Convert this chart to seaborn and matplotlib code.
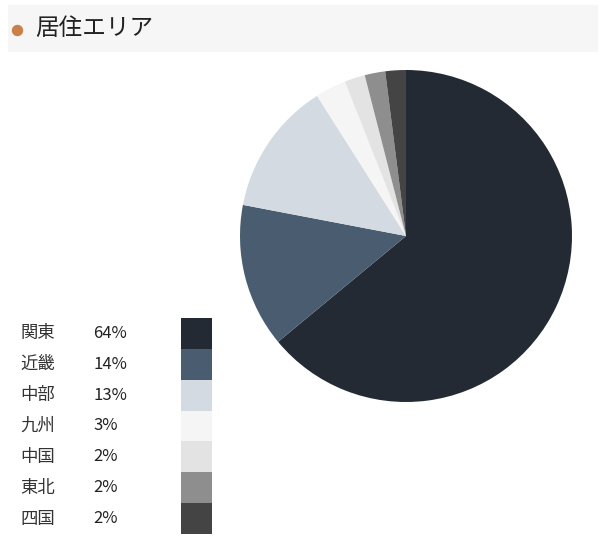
import matplotlib
matplotlib.use("Agg")
import matplotlib.pyplot as plt
import seaborn as sns

# データ
areas = ["関東", "近畿", "中部", "九州", "中国", "東北", "四国"]
shares = [64, 14, 13, 3, 2, 2, 2]
colors = ["#232a33", "#4a5d70", "#d3dae1", "#f5f5f5", "#e3e3e3", "#8e8e8e", "#444444"]
title = "居住エリア"

sns.set_theme(style="white")
plt.rcParams["font.family"] = ["Noto Sans CJK JP", "DejaVu Sans"]

W, H = 600, 545
fig = plt.figure(figsize=(W / 100, H / 100), dpi=100)
fig.patch.set_facecolor("white")


def px_axes(x0, y0, x1, y1):
    """ピクセル座標(左上原点)で axes を作る"""
    return fig.add_axes([x0 / W, 1 - y1 / H, (x1 - x0) / W, (y1 - y0) / H])


# -------------------------------
# タイトルバー
# -------------------------------
ax_t = px_axes(8, 5, 598, 52)
ax_t.set_facecolor("#f6f6f6")
ax_t.set_xlim(0, 590)
ax_t.set_ylim(47, 0)
ax_t.set_xticks([])
ax_t.set_yticks([])
for s in ax_t.spines.values():
    s.set_visible(False)
ax_t.scatter([9], [25], s=52, color="#c8814a", zorder=3)
ax_t.text(27, 23.5, title, fontsize=17, color="#222222", va="center", ha="left")

# -------------------------------
# 円グラフ
# -------------------------------
ax_p = px_axes(240, 70, 572, 402)
ax_p.pie(shares, colors=colors, startangle=90, counterclock=False,
         radius=1, wedgeprops=dict(linewidth=0))
ax_p.set_xlim(-1, 1)
ax_p.set_ylim(-1, 1)
ax_p.set_aspect("equal")

# -------------------------------
# 凡例
# -------------------------------
ax_l = px_axes(0, 318, 230, 534)
ax_l.set_xlim(0, 230)
ax_l.set_ylim(len(areas), 0)
ax_l.axis("off")
rows = [i + 0.5 for i in range(len(areas))]
ax_l.barh(rows, [31] * len(areas), left=181, height=1.0, color=colors,
          linewidth=0)
for y, name, v in zip(rows, areas, shares):
    ax_l.text(20, y, name, fontsize=12.5, color="#333333", va="center", ha="left")
    ax_l.text(93, y, f"{v}%", fontsize=12, color="#222222", va="center", ha="left")

fig.savefig("out.png", dpi=100, facecolor="white")
